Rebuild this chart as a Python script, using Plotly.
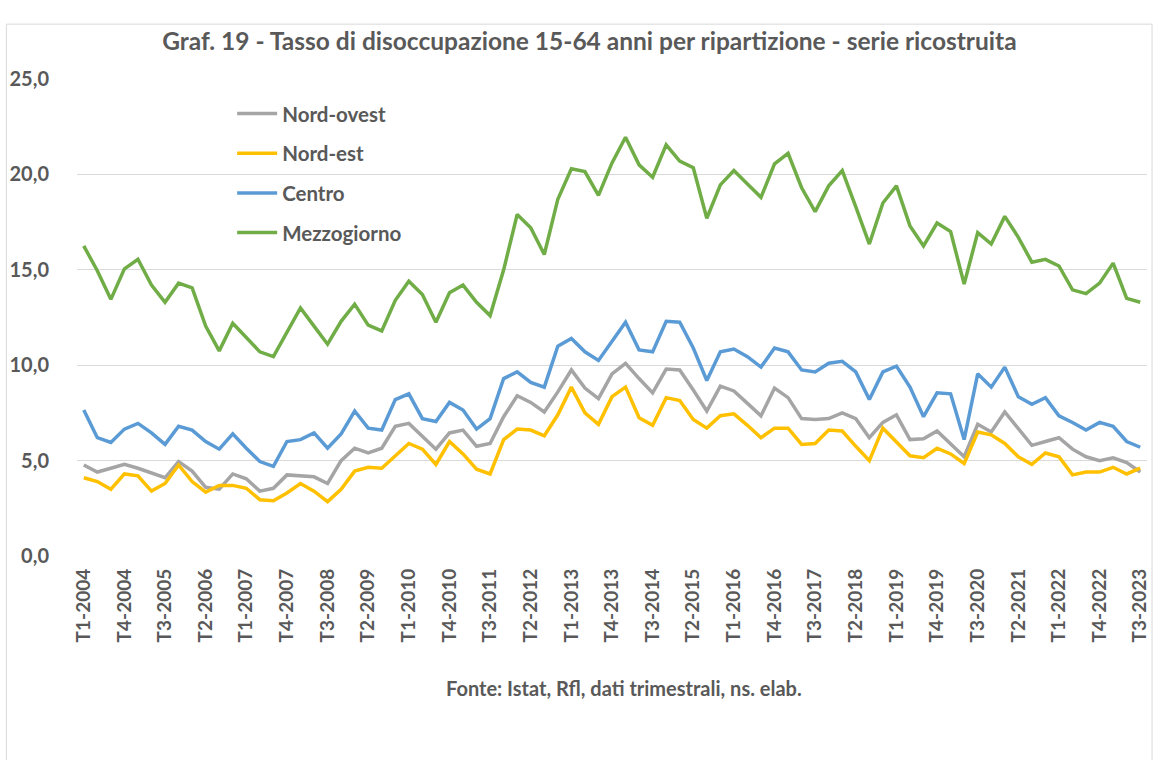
import plotly.graph_objects as go

# Quarters T1-2004 .. T3-2023
quarters = [f"T{q}-{y}" for y in range(2004, 2024) for q in range(1, 5)][:79]

nord_ovest = [4.77, 4.4, 4.6, 4.8, 4.6, 4.35, 4.1, 4.95, 4.45, 3.6, 3.5, 4.3, 4.05, 3.4, 3.55, 4.25, 4.2, 4.15, 3.8, 5.0,
              5.65, 5.4, 5.65, 6.8, 6.95, 6.3, 5.6, 6.45, 6.6, 5.75, 5.9, 7.3, 8.4, 8.05, 7.55, 8.6, 9.75, 8.8, 8.25, 9.55,
              10.1, 9.3, 8.55, 9.8, 9.75, 8.7, 7.6, 8.9, 8.65, 8.0, 7.35, 8.8, 8.3, 7.2, 7.15, 7.2, 7.5, 7.2, 6.2, 7.0,
              7.4, 6.1, 6.15, 6.55, 5.9, 5.2, 6.9, 6.5, 7.55, 6.7, 5.8, 6.0, 6.2, 5.6, 5.2, 5.0, 5.15, 4.9, 4.4]

nord_est = [4.1, 3.9, 3.5, 4.3, 4.2, 3.4, 3.8, 4.77, 3.9, 3.35, 3.7, 3.7, 3.55, 2.95, 2.9, 3.3, 3.8, 3.4, 2.85, 3.5,
            4.45, 4.65, 4.6, 5.25, 5.9, 5.6, 4.8, 6.0, 5.35, 4.55, 4.3, 6.1, 6.65, 6.6, 6.3, 7.4, 8.85, 7.5, 6.9, 8.35,
            8.85, 7.25, 6.85, 8.3, 8.15, 7.15, 6.7, 7.35, 7.45, 6.85, 6.2, 6.7, 6.7, 5.85, 5.9, 6.6, 6.55, 5.75, 5.0, 6.7,
            6.0, 5.25, 5.15, 5.65, 5.35, 4.85, 6.5, 6.35, 5.9, 5.2, 4.8, 5.4, 5.2, 4.25, 4.4, 4.4, 4.65, 4.3, 4.6]

centro = [7.65, 6.2, 5.95, 6.65, 6.95, 6.45, 5.85, 6.8, 6.6, 6.0, 5.6, 6.4, 5.65, 4.95, 4.7, 6.0, 6.1, 6.45, 5.65, 6.4,
          7.6, 6.7, 6.6, 8.2, 8.5, 7.2, 7.05, 8.05, 7.65, 6.65, 7.2, 9.3, 9.65, 9.1, 8.85, 11.0, 11.4, 10.7, 10.25, 11.25,
          12.25, 10.8, 10.7, 12.3, 12.25, 10.9, 9.2, 10.7, 10.85, 10.45, 9.9, 10.9, 10.7, 9.75, 9.65, 10.1, 10.2, 9.65, 8.2, 9.65,
          9.95, 8.85, 7.3, 8.55, 8.5, 6.1, 9.55, 8.85, 9.9, 8.35, 7.95, 8.3, 7.35, 7.0, 6.6, 7.0, 6.8, 6.0, 5.7]

mezzogiorno = [16.25, 14.95, 13.45, 15.05, 15.55, 14.2, 13.3, 14.3, 14.05, 12.05, 10.75, 12.2, 11.45, 10.7, 10.45, 11.75, 13.0, 12.05, 11.1, 12.3,
               13.2, 12.1, 11.8, 13.4, 14.4, 13.7, 12.25, 13.8, 14.2, 13.3, 12.6, 15.0, 17.9, 17.2, 15.8, 18.7, 20.3, 20.15, 18.9, 20.6,
               21.95, 20.5, 19.85, 21.55, 20.7, 20.35, 17.7, 19.45, 20.2, 19.5, 18.8, 20.55, 21.1, 19.3, 18.05, 19.4, 20.2, 18.3, 16.35, 18.5,
               19.4, 17.3, 16.25, 17.45, 17.0, 14.25, 16.95, 16.35, 17.8, 16.7, 15.4, 15.55, 15.2, 13.95, 13.75, 14.3, 15.35, 13.5, 13.3]

series_names = ["Nord-ovest", "Nord-est", "Centro", "Mezzogiorno"]
series_values = [nord_ovest, nord_est, centro, mezzogiorno]
series_colors = ["#A5A5A5", "#FFC000", "#5B9BD5", "#70AD47"]

y_ticks = [0, 5, 10, 15, 20, 25]
y_ticktext = ["0,0", "5,0", "10,0", "15,0", "20,0", "25,0"]

FONT = "Lato"
TXT = "#595959"

fig = go.Figure()
for name, vals, col in zip(series_names, series_values, series_colors):
    fig.add_trace(go.Scatter(x=quarters, y=vals, name="<b>%s</b>" % name, mode="lines",
                             line=dict(color=col, width=3.5), legendgroup=name))

fig.update_layout(
    width=1158, height=760,
    margin=dict(l=77, r=8, t=79, b=204),
    paper_bgcolor="white", plot_bgcolor="white",
    font=dict(family=FONT, color=TXT),
    title=dict(text="<b>Graf. 19 - Tasso di disoccupazione 15-64 anni per ripartizione - serie ricostruita</b>",
               x=0.509, xanchor="center", y=0.945, yanchor="middle",
               font=dict(size=24.5, color=TXT, family=FONT)),
    showlegend=True,
    legend=dict(x=0.145, y=0.969, xanchor="left", yanchor="top",
                font=dict(size=20.5, color=TXT, family=FONT),
                bgcolor="rgba(0,0,0,0)", tracegroupgap=10, itemwidth=40),
    xaxis=dict(type="category", tickmode="array", tickvals=quarters[::3],
               ticktext=["<b>%s</b>" % t for t in quarters[::3]],
               tickangle=-90, tickfont=dict(size=19, color=TXT, family=FONT),
               showgrid=False, showline=False, ticks="", range=[-0.5, 78.5],
               ticklabelstandoff=8),
    yaxis=dict(range=[0, 25], tickmode="array", tickvals=y_ticks, ticktext=["<b>%s</b>" % t for t in y_ticktext],
               tickfont=dict(size=20, color=TXT, family=FONT), showgrid=True, gridcolor="#D9D9D9",
               gridwidth=1, zeroline=False, showline=False, ticks="", ticklabelstandoff=27),
)

fig.add_annotation(text="<b>Fonte: Istat, Rfl, dati trimestrali, ns. elab.</b>",
                   xref="paper", yref="paper", x=0.511, y=-0.276, xanchor="center", yanchor="middle",
                   showarrow=False, font=dict(size=20, color=TXT, family=FONT))

# chart area border
fig.add_shape(type="rect", xref="paper", yref="paper", x0=-0.066, x1=1.0047, y0=-0.43, y1=1.115,
              line=dict(color="#D9D9D9", width=1), fillcolor="rgba(0,0,0,0)", layer="below")

fig.write_html("out.html", config={"displayModeBar": False},
               post_script="document.body.style.margin='0';document.body.style.overflow='hidden';")
